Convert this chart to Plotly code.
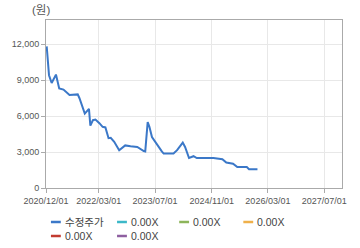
import plotly.graph_objects as go

dates = ["2020-12-07", "2020-12-27", "2021-01-19", "2021-02-25", "2021-03-25", "2021-05-01",
         "2021-06-22", "2021-08-19", "2021-09-01", "2021-09-16", "2021-11-01", "2021-12-07",
         "2021-12-19", "2022-01-10", "2022-02-01", "2022-03-07", "2022-04-04", "2022-04-28",
         "2022-05-25", "2022-06-13", "2022-07-13", "2022-08-25", "2022-10-16", "2022-12-01",
         "2023-01-28", "2023-03-25", "2023-04-07", "2023-04-28", "2023-05-13", "2023-06-04",
         "2023-07-16", "2023-08-28", "2023-09-13", "2023-12-07", "2024-01-07", "2024-02-25",
         "2024-03-16", "2024-04-19", "2024-05-28", "2024-06-25", "2024-11-16", "2025-02-01",
         "2025-03-07", "2025-05-04", "2025-06-10", "2025-08-31", "2025-09-19", "2025-12-01"]
price = [11800, 9400, 8750, 9450, 8300, 8200,
         7750, 7750, 7800, 7480, 6200, 6600,
         5200, 5650, 5700, 5400, 5100, 5050,
         4150, 4180, 3850, 3150, 3550, 3480,
         3420, 3080, 3050, 5500, 5100, 4250,
         3600, 3050, 2870, 2870, 3150, 3780,
         3420, 2500, 2650, 2500, 2500, 2400,
         2120, 2030, 1740, 1740, 1560, 1560]

series_names = ["수정주가", "0.00X", "0.00X", "0.00X", "0.00X", "0.00X"]
series_colors = ["#3b78c8", "#3cb8c8", "#8db55a", "#efb04a", "#c23b30", "#8e5fa0"]
y_ticks = [0, 3000, 6000, 9000, 12000]
x_ticks = ["2020-12-01", "2022-03-01", "2023-07-01", "2024-11-01", "2026-03-01", "2027-07-01"]
x_labels = ["2020/12/01", "2022/03/01", "2023/07/01", "2024/11/01", "2026/03/01", "2027/07/01"]

W, H = 360, 248
L, R, T, B = 42, 18, 20, 60
pw, ph = W - L - R, H - T - B

fig = go.Figure()
fig.add_trace(go.Scatter(x=dates, y=price, mode="lines", name=series_names[0],
                         line=dict(color=series_colors[0], width=2), showlegend=False))
for nm, c in zip(series_names[1:], series_colors[1:]):
    fig.add_trace(go.Scatter(x=[], y=[], mode="lines", name=nm,
                             line=dict(color=c, width=2), showlegend=False))

def px2paper(x, y):
    return (x - L) / pw, (H - B - y) / ph

# manual legend
leg_pos = [(47, 222), (114, 222), (177, 222), (242, 222), (47, 236), (114, 236)]
font_fam = "Liberation Sans, Noto Sans CJK KR, sans-serif"
for (lx, ly), nm, c in zip(leg_pos, series_names, series_colors):
    x0, y0 = px2paper(lx, ly)
    x1, _ = px2paper(lx + 10, ly)
    fig.add_shape(type="line", xref="paper", yref="paper", x0=x0, x1=x1, y0=y0, y1=y0,
                  line=dict(color=c, width=2.5))
    tx, _ = px2paper(lx + 13, ly)
    fig.add_annotation(xref="paper", yref="paper", x=tx, y=y0, text=nm, showarrow=False,
                       xanchor="left", yanchor="middle", borderpad=0,
                       font=dict(size=10.5, color="#444", family=font_fam))

ux, uy = px2paper(37, 10)
fig.add_annotation(xref="paper", yref="paper", x=ux, y=uy, text="(원)", showarrow=False,
                   xanchor="center", yanchor="middle",
                   font=dict(size=11.5, color="#555", family=font_fam))

fig.update_layout(
    width=W, height=H, margin=dict(l=L, r=R, t=T, b=B),
    paper_bgcolor="white", plot_bgcolor="white",
    font=dict(family=font_fam, size=9, color="#555"),
    xaxis=dict(type="date", range=["2020-12-01", "2027-12-01"],
               tickvals=x_ticks, ticktext=x_labels,
               showgrid=True, gridcolor="#e8e8e8", gridwidth=1,
               showline=True, linecolor="#aaaaaa", linewidth=1, mirror=True,
               ticks="outside", ticklen=4, tickcolor="#aaaaaa", zeroline=False,
               tickfont=dict(size=9, color="#555")),
    yaxis=dict(range=[0, 14000], tickvals=y_ticks, tickformat=",d",
               showgrid=True, gridcolor="#e8e8e8", gridwidth=1,
               showline=True, linecolor="#aaaaaa", linewidth=1, mirror=True,
               ticks="outside", ticklen=4, tickcolor="#aaaaaa", zeroline=False,
               tickfont=dict(size=9, color="#555")),
    showlegend=False,
)

fig.write_html("out.html")
